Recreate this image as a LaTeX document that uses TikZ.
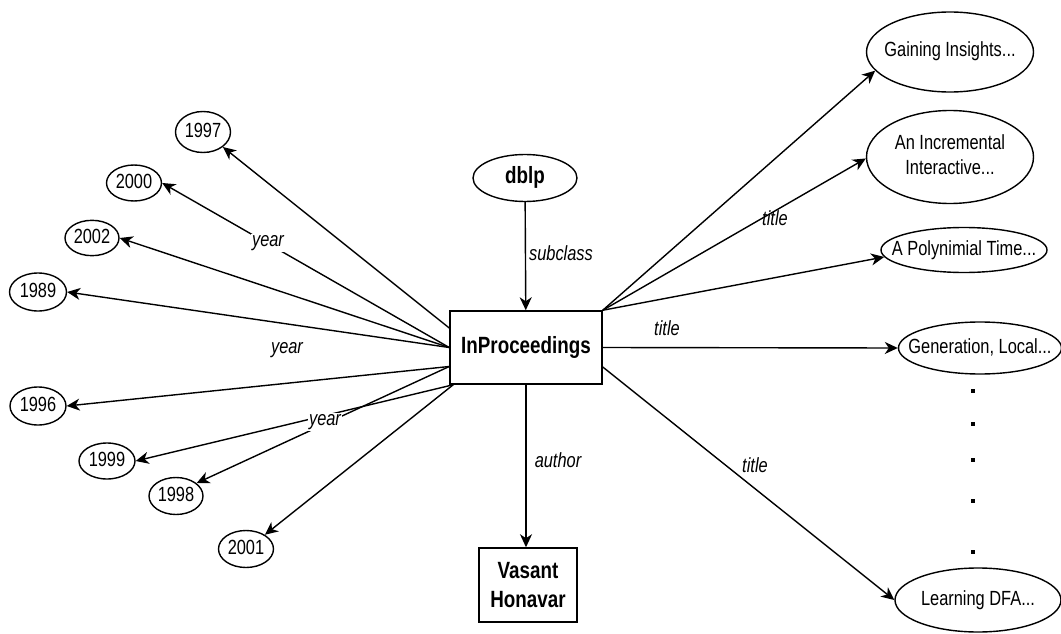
\documentclass[tikz,border=0pt]{standalone}
\usepackage{fontspec}
\setmainfont{Liberation Sans}[FakeStretch=0.8]
\usetikzlibrary{shapes.geometric,arrows.meta}

% centred text that does not widen the surrounding shape
\newcommand\ctext[1]{\makebox[0pt][c]{\begin{tabular}{@{}c@{}}#1\end{tabular}}}

\begin{document}
\begin{tikzpicture}[x=1pt,y=-1pt,
  val/.style={ellipse, draw, line width=1.4pt, inner sep=0pt,
    font=\fontsize{20.5}{25}\selectfont},
  cls/.style={rectangle, draw, line width=1.5pt, inner sep=0pt, align=center,
    font=\bfseries\fontsize{23.5}{29}\selectfont},
  rel/.style={inner sep=1pt, font=\itshape\fontsize{20.5}{24}\selectfont},
  link/.style={-{Stealth[length=13pt,width=12pt,inset=4pt]}, line width=1.4pt},
  dot/.style={rectangle, fill, inner sep=0pt, minimum size=3.5pt}]
\useasboundingbox (0,0) rectangle (1061,634);

% classes
\node[val, font=\bfseries\fontsize{23.5}{29}\selectfont,
      minimum width=104pt, minimum height=47pt] (dblp) at (525,178) {\ctext{dblp}};
\node[cls, minimum width=152pt, minimum height=73pt] (ip) at (526,347.5) {InProceedings};
\node[cls, minimum width=98pt, minimum height=74pt] (va) at (528,585) {Vasant\\Honavar};

% year values
\node[val, minimum width=55pt, minimum height=41pt] (y1997) at (203,132) {\ctext{1997}};
\node[val, minimum width=55pt, minimum height=36pt] (y2000) at (134,183) {\ctext{2000}};
\node[val, minimum width=54pt, minimum height=34pt] (y2002) at (92,238) {\ctext{2002}};
\node[val, minimum width=57pt, minimum height=38pt] (y1989) at (38,292) {\ctext{1989}};
\node[val, minimum width=56pt, minimum height=38pt] (y1996) at (38,406) {\ctext{1996}};
\node[val, minimum width=56pt, minimum height=36pt] (y1999) at (107,461) {\ctext{1999}};
\node[val, minimum width=54pt, minimum height=37pt] (y1998) at (176,496) {\ctext{1998}};
\node[val, minimum width=55pt, minimum height=37pt] (y2001) at (246,549) {\ctext{2001}};

% title values
\node[val, minimum width=167pt, minimum height=80pt] (t1) at (950,52) {\ctext{Gaining Insights...}};
\node[val, minimum width=167pt, minimum height=93pt] (t2) at (950,157) {\ctext{An Incremental\\Interactive...}};
\node[val, minimum width=166pt, minimum height=45pt] (t3) at (964,250) {\ctext{A Polynimial Time...}};
\node[val, minimum width=163pt, minimum height=52pt] (t4) at (980,348) {\ctext{Generation, Local...}};
\node[val, minimum width=166pt, minimum height=64pt] (t5) at (978,600) {\ctext{Learning DFA...}};

% elided titles
\node[dot] (d1) at (973,391) {};
\node[dot] (d2) at (973,424) {};
\node[dot] (d3) at (973,460) {};
\node[dot] (d4) at (973,501) {};
\node[dot] (d5) at (973,552) {};

% attachment points on the class box
\coordinate (wtop) at ([yshift=19.5pt]ip.west);
\coordinate (wlow) at ([yshift=-19pt]ip.west);
\coordinate (sw)   at ([xshift=4pt]ip.south west);
\coordinate (elow) at ([yshift=-19.5pt]ip.east);

% connectors
\draw[link] (dblp) -- (ip);
\draw[link] (ip.south) -- (ip.south |- va.north);

\draw[link] (wtop) -- (y1997.323);
\draw[link] (ip.west) -- (y2000.east);
\draw[link] (ip.west) -- (y2002.east);
\draw[link] (ip.west) -- (y1989.east);
\draw[link] (wlow) -- (y1996.east);
\draw[link] (wlow) -- (y1998.32);
\draw[link] (sw) -- (y1999.east);
\draw[link] (sw) -- (y2001.37);

\draw[link] (ip.north east) -- (t1.194);
\draw[link] (ip.north east) -- (t2.181);
\draw[link] (ip.north east) -- (t3.185);
\draw[link] (ip.east) -- (t4.west);
\draw[link] (elow) -- (t5.west);

% property labels
\node[rel] (lsub) at (561,253) {subclass};
\node[rel] (laut) at (558,460) {author};
\node[rel, fill=white] (ly1) at (268,243) {year};
\node[rel] (ly2) at (287,350) {year};
\node[rel, fill=white] (ly3) at (325,422) {year};
\node[rel] (lt1) at (775,218) {title};
\node[rel] (lt2) at (667,328) {title};
\node[rel] (lt3) at (755,465) {title};
\end{tikzpicture}
\end{document}
